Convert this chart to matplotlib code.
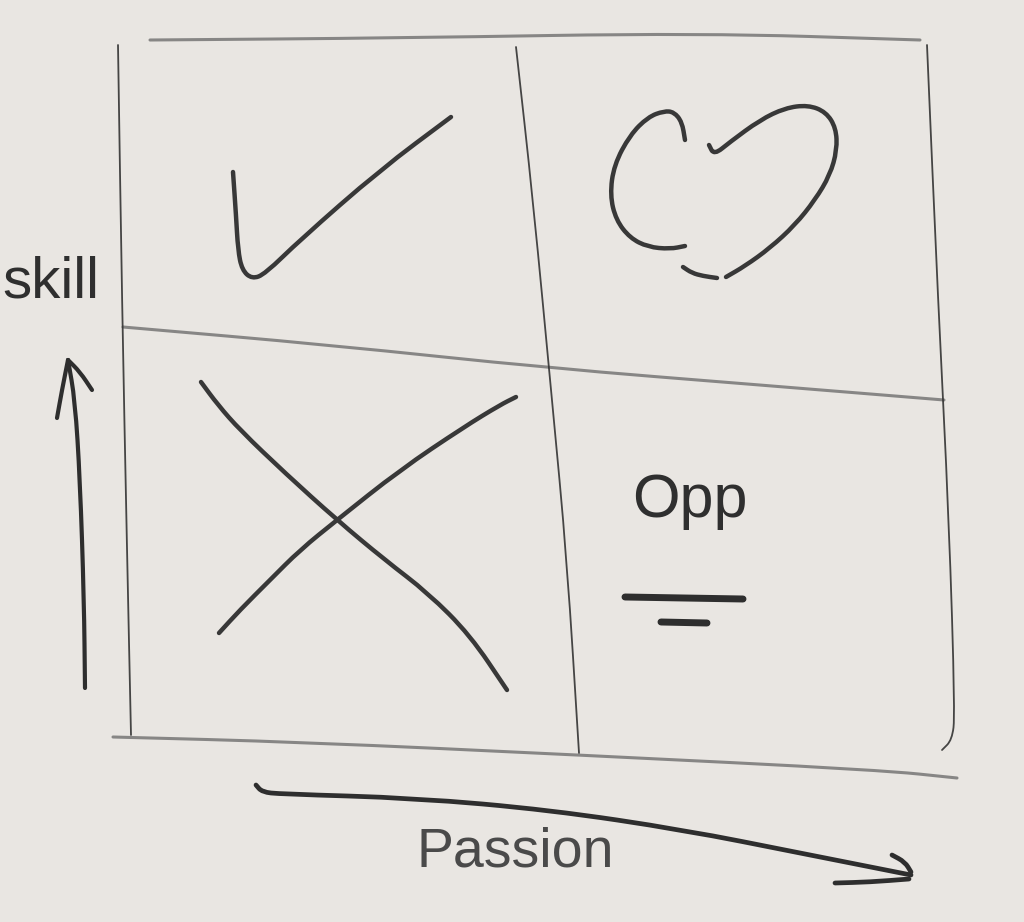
import matplotlib.pyplot as plt
from matplotlib.path import Path
from matplotlib.patches import PathPatch

# pencil grid strokes (pixel coords of the sketch, y down)
top_line = [(150, 40), (400, 38), (700, 33), (920, 40)]
left_line = [(118, 45), (122, 300), (127, 550), (131, 735)]
right_line = [(927, 45), (938, 300), (949, 520), (955, 715), (952, 740), (942, 750)]
bottom_line = [(113, 737), (300, 742), (579, 755), (880, 770), (957, 778)]
mid_vert = [(516, 47), (533, 200), (552, 400), (567, 560), (579, 753)]
mid_horiz = [(123, 327), (330, 345), (548, 368), (760, 385), (944, 400)]

# marker strokes
check_mark = [(233, 172), (236, 215), (238, 250), (242, 270), (252, 279), (265, 274),
              (300, 240), (380, 170), (451, 117)]
heart_left = [(685, 140), (682, 122), (674, 112), (664, 111), (648, 117), (630, 135),
              (614, 165), (610, 195), (616, 220), (630, 238), (648, 247), (670, 249), (685, 246)]
heart_bottom = [(683, 267), (692, 273), (703, 276), (717, 278)]
heart_right = [(709, 145), (714, 155), (730, 142), (760, 120), (785, 108), (808, 105),
               (826, 112), (836, 128), (837, 150), (830, 175), (815, 200), (795, 225),
               (770, 248), (745, 266), (726, 277)]
x_down = [(201, 382), (218, 405), (240, 430), (285, 473), (337, 520), (385, 560),
          (428, 593), (470, 635), (507, 690)]
x_up = [(516, 397), (500, 405), (464, 427), (400, 470), (337, 520), (300, 550),
        (270, 580), (240, 610), (219, 633)]
underline_long = [(625, 597), (743, 599)]
underline_short = [(661, 622), (707, 623)]

# axis arrows
skill_arrow = [(85, 688), (84, 600), (80, 480), (75, 400), (68, 360)]
skill_head_l = [(68, 360), (62, 390), (57, 418)]
skill_head_r = [(68, 360), (80, 372), (92, 390)]
passion_arrow = [(256, 785), (262, 792), (280, 794), (415, 798), (550, 810), (684, 830),
                 (800, 853), (911, 875)]
passion_head_l = [(835, 883), (870, 882), (909, 879)]
passion_head_u = [(892, 855), (905, 862), (911, 872)]

labels = {"skill": (2, 297), "Passion": (515, 866), "Opp": (690, 517)}

paper = "#e9e6e2"
pencil = "#5e5e5e"
ink = "#383838"

fig = plt.figure(figsize=(10.24, 9.22), dpi=100)
fig.patch.set_facecolor(paper)
ax = fig.add_axes([0, 0, 1, 1])
ax.set_facecolor(paper)
ax.set_xlim(0, 1024)
ax.set_ylim(922, 0)
ax.axis("off")


def stroke(pts, color, lw, alpha=1.0):
    # smooth quadratic path through the midpoints, the points act as controls
    verts = [pts[0]]
    codes = [Path.MOVETO]
    if len(pts) > 2:
        m = ((pts[0][0] + pts[1][0]) / 2, (pts[0][1] + pts[1][1]) / 2)
        verts.append(m)
        codes.append(Path.LINETO)
        for i in range(1, len(pts) - 1):
            nxt = ((pts[i][0] + pts[i + 1][0]) / 2, (pts[i][1] + pts[i + 1][1]) / 2)
            verts += [pts[i], nxt]
            codes += [Path.CURVE3, Path.CURVE3]
    verts.append(pts[-1])
    codes.append(Path.LINETO)
    patch = PathPatch(Path(verts, codes), facecolor="none", edgecolor=color,
                      lw=lw, alpha=alpha, capstyle="round", joinstyle="round")
    ax.add_patch(patch)


for s in [top_line, bottom_line, mid_horiz]:
    stroke(s, pencil, 2.2, 0.7)
for s in [left_line, right_line, mid_vert]:
    stroke(s, "#333333", 1.3, 0.9)

for s in [check_mark, heart_left, heart_bottom, heart_right, x_down, x_up]:
    stroke(s, ink, 3.2)
for s in [underline_long, underline_short]:
    stroke(s, "#2e2e2e", 5.0)

for s in [skill_arrow, skill_head_l, skill_head_r]:
    stroke(s, "#2e2e2e", 3.0)
for s in [passion_arrow, passion_head_l, passion_head_u]:
    stroke(s, "#2e2e2e", 3.4)

ax.text(*labels["skill"], "skill", fontsize=42, family="Liberation Sans",
        color="#2f2f2f", ha="left", va="baseline")
ax.text(*labels["Passion"], "Passion", fontsize=40, family="Liberation Sans",
        color="#4a4a4a", ha="center", va="baseline")
ax.text(*labels["Opp"], "Opp", fontsize=44, family="Liberation Sans",
        color="#2f2f2f", ha="center", va="baseline")

fig.savefig("out.png", dpi=100, facecolor=paper)
